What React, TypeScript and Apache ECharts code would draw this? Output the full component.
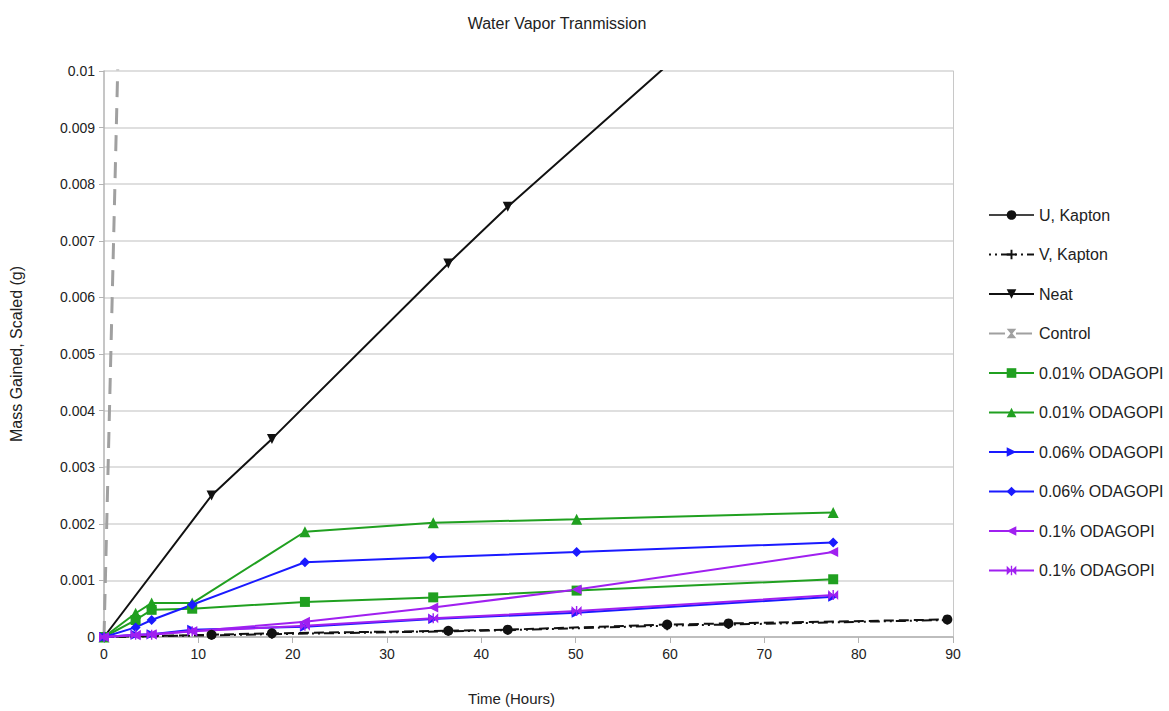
import React, { useEffect, useRef } from 'react';
import * as echarts from 'echarts';

// Time points (hours)
const kaptonTimes = [0, 11.4, 17.8, 36.5, 42.8, 59.7, 66.2, 89.4];
const controlTimes = [0, 2.9];
const odaTimes = [0, 3.35, 5.05, 9.35, 21.3, 34.9, 50.1, 77.3];

// Mass gained, scaled (g)
const uKapton = [0, 0.00004, 0.000065, 0.00011, 0.00013, 0.00022, 0.00024, 0.00031];
const vKapton = [0, 0.00003, 0.00005, 0.0001, 0.00012, 0.0002, 0.00022, 0.0003];
const neat = [0, 0.0025, 0.0035, 0.0066, 0.0076, 0.0101, 0.0111, 0.0145];
const control = [0, 0.02];
const oda001Square = [0, 0.0003, 0.00048, 0.0005, 0.00062, 0.0007, 0.00082, 0.00102];
const oda001Triangle = [0, 0.00042, 0.0006, 0.0006, 0.00186, 0.00202, 0.00208, 0.0022];
const oda006Right = [0, 0.00004, 0.00005, 0.00013, 0.00018, 0.00032, 0.00043, 0.00071];
const oda006Diamond = [0, 0.00017, 0.0003, 0.00057, 0.00132, 0.00141, 0.0015, 0.00167];
const oda01Left = [0, 0.00003, 0.00005, 0.0001, 0.00027, 0.00052, 0.00084, 0.0015];
const oda01Bowtie = [0, 0.00004, 0.00004, 0.0001, 0.0002, 0.00033, 0.00046, 0.00074];

const xTicks = { min: 0, max: 90, interval: 10 };
const yTicks = { min: 0, max: 0.01, interval: 0.001 };

const FONT = '"Liberation Sans", Arial, sans-serif';

const pair = (xs: number[], ys: number[]) => xs.map((x, i) => [x, ys[i]]);

const SYM = {
  down: 'path://M0,0L10,0L5,10Z',
  right: 'path://M0,0L10,5L0,10Z',
  left: 'path://M10,0L0,5L10,10Z',
  plus: 'path://M4,0L6,0L6,4L10,4L10,6L6,6L6,10L4,10L4,6L0,6L0,4L4,4Z',
  hourglass: 'path://M0,0L10,0L6,5L10,10L0,10L4,5Z',
  bowtie: 'path://M0,0L5,5L0,10Z M10,0L5,5L10,10Z M4.3,0L5.7,0L5.7,10L4.3,10Z',
};

export default function App() {
  const ref = useRef<HTMLDivElement>(null);
  useEffect(() => {
    document.body.style.margin = '0';
    const chart = echarts.init(ref.current!, null, { renderer: 'svg' });
    const mk = (
      name: string,
      data: number[][],
      color: string,
      symbol: string,
      size: number,
      lineType: any = 'solid',
      width = 2
    ) => ({
      name,
      type: 'line',
      data,
      symbol,
      symbolSize: size,
      showSymbol: true,
      clip: true,
      itemStyle: { color },
      lineStyle: { color, width, type: lineType },
      emphasis: { disabled: true },
    });
    const names = [
      'U, Kapton',
      'V, Kapton',
      'Neat',
      'Control',
      '0.01% ODAGOPI',
      '0.01% ODAGOPI ',
      '0.06% ODAGOPI',
      '0.06% ODAGOPI ',
      '0.1% ODAGOPI',
      '0.1% ODAGOPI ',
    ];
    chart.setOption({
      animation: false,
      backgroundColor: '#ffffff',
      title: {
        text: 'Water Vapor Tranmission',
        left: 552,
        top: 10,
        textAlign: 'center',
        textStyle: { fontFamily: FONT, fontSize: 16, fontWeight: 'normal', color: '#222' },
      },
      grid: { left: 104, right: 216, top: 71, bottom: 74 },
      legend: {
        orient: 'vertical',
        left: 983,
        top: 202,
        itemWidth: 45,
        itemHeight: 12,
        itemGap: 23.5,
        textStyle: { fontFamily: FONT, fontSize: 16, color: '#222' },
        data: names.map((n, i) =>
          i === 0 ? { name: n, lineStyle: { type: 'solid', color: '#444' } } : { name: n }
        ),
      },
      xAxis: {
        type: 'value',
        ...xTicks,
        name: 'Time (Hours)',
        nameLocation: 'middle',
        nameGap: 54,
        nameTextStyle: { fontFamily: FONT, fontSize: 15, color: '#222', padding: [0, 34, 0, 0] },
        axisLine: { show: true, lineStyle: { color: '#b3b3b3', width: 1.5 } },
        axisTick: { show: true, length: 6, lineStyle: { color: '#b3b3b3' } },
        axisLabel: { fontFamily: FONT, fontSize: 14, color: '#222', margin: 10 },
        splitLine: { show: false },
      },
      yAxis: [
        {
          type: 'value',
          ...yTicks,
          name: 'Mass Gained, Scaled (g)',
          nameLocation: 'middle',
          nameGap: 80,
          nameRotate: 90,
          nameTextStyle: { fontFamily: FONT, fontSize: 16, color: '#222' },
          axisLine: { show: true, lineStyle: { color: '#b3b3b3', width: 1.5 } },
          axisTick: { show: true, length: 5, lineStyle: { color: '#b3b3b3' } },
          axisLabel: { fontFamily: FONT, fontSize: 14, color: '#222', margin: 9 },
          splitLine: { show: true, lineStyle: { color: '#d4d4d4', width: 1.5 } },
        },
        {
          type: 'value',
          ...yTicks,
          position: 'right',
          axisLine: { show: true, lineStyle: { color: '#c8c8c8', width: 1 } },
          axisTick: { show: false },
          axisLabel: { show: false },
          splitLine: { show: false },
        },
      ],
      series: [
        mk(names[0], pair(kaptonTimes, uKapton), '#111111', 'circle', 10, [10, 5], 2),
        mk(names[1], pair(kaptonTimes, vKapton), '#111111', SYM.plus, 9, [2, 4, 2, 4, 10, 4], 2),
        mk(names[2], pair(kaptonTimes, neat), '#111111', SYM.down, 10, 'solid', 2),
        mk(names[3], pair(controlTimes, control), '#a0a0a0', SYM.hourglass, 10, [16, 11], 3),
        mk(names[4], pair(odaTimes, oda001Square), '#20a020', 'rect', 10, 'solid', 2),
        mk(names[5], pair(odaTimes, oda001Triangle), '#20a020', 'triangle', 11, 'solid', 2),
        mk(names[6], pair(odaTimes, oda006Right), '#1a1aff', SYM.right, 10, 'solid', 2),
        mk(names[7], pair(odaTimes, oda006Diamond), '#1a1aff', 'diamond', 10, 'solid', 2),
        mk(names[8], pair(odaTimes, oda01Left), '#a020f0', SYM.left, 10, 'solid', 2),
        mk(names[9], pair(odaTimes, oda01Bowtie), '#a020f0', SYM.bowtie, 10, 'solid', 2),
      ],
    });
    return () => chart.dispose();
  }, []);
  return <div ref={ref} style={{ width: 1169, height: 711 }} />;
}
